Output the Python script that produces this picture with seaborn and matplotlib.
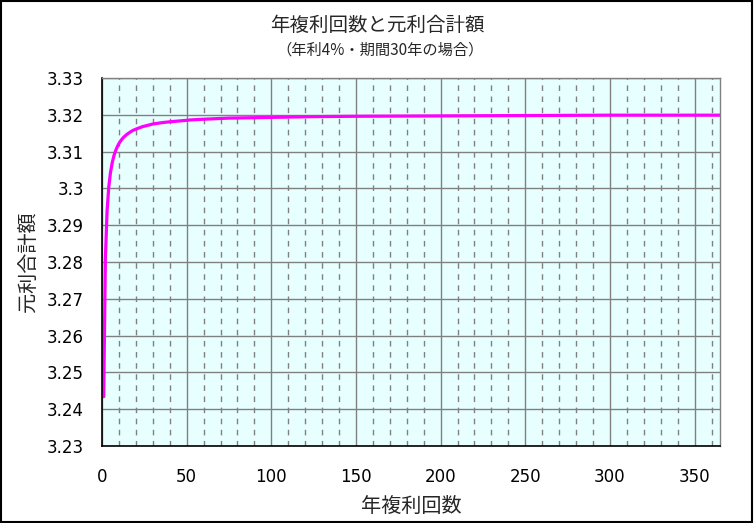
import matplotlib
matplotlib.use("Agg")
import matplotlib.pyplot as plt
import seaborn as sns
import pandas as pd
from matplotlib.ticker import MultipleLocator, FixedLocator
from matplotlib.font_manager import FontProperties

# Data (times compounded per year vs. final amount)
n_per_year = [1, 2, 3, 4, 5, 6, 7, 8, 9, 10, 11, 12, 13, 14, 15, 16, 17, 18, 19, 20,
              24, 25, 30, 36, 40, 50, 52, 60, 75, 100, 125, 150, 200, 250, 300, 365]
amount = [3.2434, 3.2810, 3.2939, 3.3004, 3.3043, 3.3069, 3.3088, 3.3102, 3.3113, 3.3122,
          3.3129, 3.3135, 3.3140, 3.3144, 3.3148, 3.3151, 3.3154, 3.3157, 3.3159, 3.3161,
          3.3168, 3.3169, 3.3175, 3.3179, 3.3181, 3.3185, 3.3186, 3.3188, 3.3191, 3.3193,
          3.3195, 3.3196, 3.3197, 3.3198, 3.3199, 3.3199]
y_ticks = [3.23, 3.24, 3.25, 3.26, 3.27, 3.28, 3.29, 3.30, 3.31, 3.32, 3.33]
y_tick_labels = ["3.23", "3.24", "3.25", "3.26", "3.27", "3.28", "3.29", "3.3", "3.31", "3.32", "3.33"]
x_ticks = [0, 50, 100, 150, 200, 250, 300, 350]
x_tick_labels = ["0", "50", "100", "150", "200", "250", "300", "350"]

title = "年複利回数と元利合計額"
subtitle = "（年利4%・期間30年の場合）"
xlabel = "年複利回数"
ylabel = "元利合計額"

sns.set_style("white")
plt.rcParams['font.family'] = ['Noto Sans CJK JP', 'DejaVu Sans']

df = pd.DataFrame({"n": n_per_year, "amount": amount})

fig = plt.figure(figsize=(7.54, 5.23), dpi=100)
ax = fig.add_axes([102 / 754, 1 - 446 / 523, (720 - 102) / 754, (446 - 78) / 523])
ax.set_facecolor("#e8ffff")

sns.lineplot(data=df, x="n", y="amount", ax=ax, color="#ff00ff", linewidth=2.3)

tick_font = FontProperties(family="DejaVu Sans", size=12)

ax.set_xlim(0, 365)
ax.set_ylim(3.23, 3.33)
ax.xaxis.set_major_locator(FixedLocator(x_ticks))
ax.xaxis.set_minor_locator(MultipleLocator(10))
ax.set_xticklabels(x_tick_labels, fontproperties=tick_font)
ax.set_yticks(y_ticks)
ax.set_yticklabels(y_tick_labels, fontproperties=tick_font)

ax.grid(which="major", axis="both", color="#808080", linewidth=1.0, linestyle="-")
ax.grid(which="minor", axis="x", color="#808080", linewidth=1.0, linestyle=(0, (4, 4)))
ax.set_axisbelow(True)

for s in ["left", "bottom"]:
    ax.spines[s].set_color("black")
    ax.spines[s].set_linewidth(1.2)
for s in ["top", "right"]:
    ax.spines[s].set_color("#808080")
    ax.spines[s].set_linewidth(1.0)

ax.tick_params(axis="both", which="major", direction="in", length=5, width=1.2,
               color="black", labelcolor="black")
ax.tick_params(axis="y", which="major", pad=13)
ax.tick_params(axis="x", which="major", pad=16)
ax.tick_params(axis="x", which="minor", length=0)

ax.set_xlabel(xlabel, fontsize=14.5, labelpad=7)
ax.set_ylabel(ylabel, fontsize=14.5, labelpad=6)

fig.text(377 / 754, 1 - 25 / 523, title, ha="center", va="center", fontsize=14)
fig.text(380 / 754, 1 - 50 / 523, subtitle, ha="center", va="center", fontsize=11)

# outer black frame
fig.patches.append(plt.Rectangle((0.001, 0.001), 0.997, 0.997, transform=fig.transFigure,
                                 fill=False, edgecolor="black", linewidth=1.5))

fig.savefig("out.png", dpi=100)
